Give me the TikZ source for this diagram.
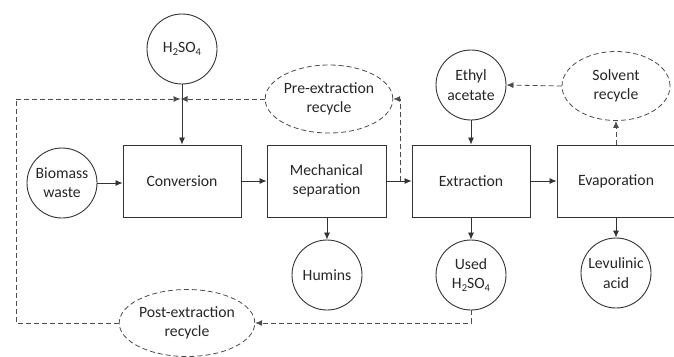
\documentclass[tikz,border=0pt]{standalone}
\usepackage{fontspec}
\setmainfont{Carlito}
\usetikzlibrary{arrows.meta,shapes.geometric,calc}
\newcommand\sbs[1]{\raisebox{-0.4ex}{\fontsize{10.5}{10.5}\selectfont #1}}
\begin{document}
\begin{tikzpicture}[x=1pt,y=-1pt,
  every node/.style={font=\fontsize{15.7}{19.3}\selectfont, text=black!85, align=center, inner sep=0pt},
  lne/.style={draw=black!80, line width=0.9pt},
  proc/.style={lne, rectangle, minimum width=118pt, minimum height=72pt},
  res/.style={lne, circle, minimum size=70pt},
  rec/.style={draw=black!70, line width=0.8pt, ellipse, dash pattern=on 5pt off 3pt},
  flow/.style={draw=black!80, line width=0.8pt, -{Latex[length=7pt,width=6pt]}},
  dflow/.style={draw=black!70, line width=0.8pt, dash pattern=on 5pt off 3pt, -{Latex[length=7pt,width=6pt]}},
  dline/.style={draw=black!70, line width=0.8pt, dash pattern=on 5pt off 3pt}]
\useasboundingbox (0,0) rectangle (674,356);
% process boxes
\node[proc] (conv) at (182,181) {Conversion};
\node[proc, minimum width=119pt] (mech) at (326.5,181) {Mechanical\\separation};
\node[proc] (extr) at (471,181) {Extraction};
\node[proc] (evap) at (616,181) {Evaporation};
% inputs / outputs
\node[res] (h2so4) at (182,49) {H\sbs{2}SO\sbs{4}};
\node[res] (bio) at (62,183) {Biomass\\waste};
\node[res] (ethyl) at (471,85) {Ethyl\\acetate};
\node[res] (humins) at (327,275) {Humins};
\node[res] (used) at (471,275) {Used\\H\sbs{2}SO\sbs{4}};
\node[res] (lev) at (616,273) {Levulinic\\acid};
% recycles
\node[rec, minimum width=110pt, minimum height=68pt] (pre) at (329,99) {Pre-extraction\\recycle};
\node[rec, minimum width=108pt, minimum height=69pt] (solv) at (616,86) {Solvent\\recycle};
\node[rec, minimum width=118pt, minimum height=67pt] (post) at (187,323) {Post-extraction\\recycle};
% junction coordinates
\coordinate (hj) at (182,99);
\coordinate (lc) at (16,99);
\coordinate (pj) at (400,181);
% main flow
\draw[flow] (h2so4.south) -- (conv.north);
\draw[flow] (bio.east) -- (bio.east -| conv.west);
\draw[flow] (conv.east) -- (mech.west);
\draw[flow] (mech.east) -- (extr.west);
\draw[flow] (extr.east) -- (evap.west);
\draw[flow] (ethyl.south) -- (extr.north);
\draw[flow] (extr.south) -- (used.north);
\draw[flow] (evap.south) -- (lev.north);
\draw[flow] (mech.south -| humins.north) -- (humins.north);
% recycle flows
\draw[dflow] (evap.north) -- (solv.south);
\draw[dflow] (solv.west) -- (ethyl.east);
\draw[dflow] (pj) |- (pre.east);
\draw[dflow, shorten >=-1.5pt] (pre.west) -- (hj);
\draw[dflow] (used.south) |- (post.east);
\draw[dline] (post.west) -| (lc);
\draw[dflow, shorten >=1.5pt] (lc) -- (hj);
\end{tikzpicture}
\end{document}
